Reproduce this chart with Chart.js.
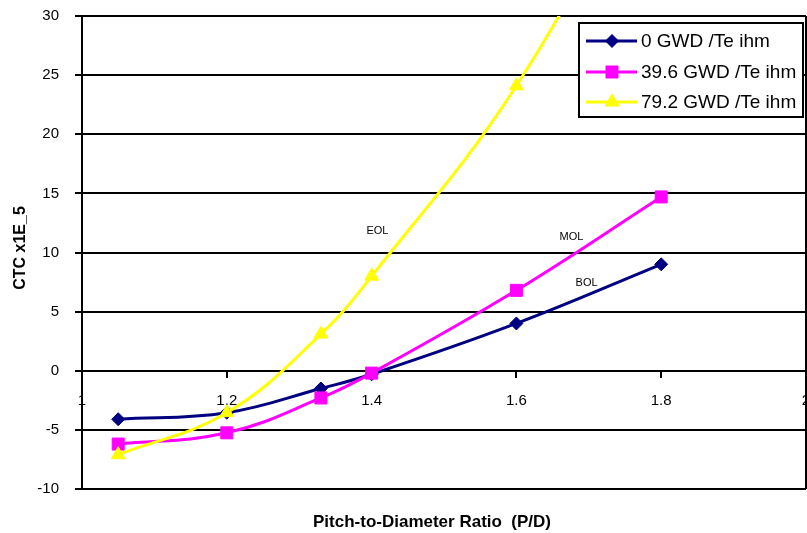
<!DOCTYPE html>
<html>
<head>
<meta charset="utf-8">
<script src="https://cdn.jsdelivr.net/npm/chart.js@4.4.1/dist/chart.umd.min.js"></script>
<style>
  html, body { margin: 0; padding: 0; background: #fff; }
  canvas { display: block; }
</style>
</head>
<body>
<canvas id="ctc" width="807" height="533"></canvas>
<script>
// Pitch-to-diameter ratios of the computed lattices
const pdRatio = [1.05, 1.2, 1.33, 1.4, 1.6, 1.8];

// Coolant temperature coefficient (x1E-5) at three burnup states
const ctcBol = [-4.1, -3.55, -1.5, -0.3, 4.0, 9.0];
const ctcMol = [-6.2, -5.25, -2.3, -0.2, 6.8, 14.7];
const ctcEol = [-7.1, -3.55, 3.1, 8.0, 24.1, 46];

const seriesNames = ['0 GWD /Te ihm', '39.6 GWD /Te ihm', '79.2 GWD /Te ihm'];

// Curve tags written next to each line
const tagText = ['EOL', 'MOL', 'BOL'];
const tagX = [1.408, 1.676, 1.697];
const tagY = [11.8, 11.3, 7.4];

const xTickValues = [1, 1.2, 1.4, 1.6, 1.8, 2];
const yTickValues = [-10, -5, 0, 5, 10, 15, 20, 25, 30];

const xTitle = 'Pitch-to-Diameter Ratio  (P/D)';
const yTitle = 'CTC x1E_5';

const toPoints = ys => pdRatio.map((x, i) => ({ x, y: ys[i] }));

const lineStyle = (color, shape, r, order) => ({
  borderColor: color,
  backgroundColor: color,
  pointBackgroundColor: color,
  pointBorderColor: color,
  pointStyle: shape,
  pointRadius: r,
  pointBorderWidth: 1,
  borderWidth: 3,
  tension: 0.4,
  order
});

const datasets = [
  Object.assign({ label: seriesNames[0], data: toPoints(ctcBol) }, lineStyle('#000080', 'rectRot', 6.5, 3)),
  Object.assign({ label: seriesNames[1], data: toPoints(ctcMol) }, lineStyle('#FF00FF', 'rect', 8.5, 2)),
  Object.assign({ label: seriesNames[2], data: toPoints(ctcEol) }, lineStyle('#FFFF00', 'triangle', 8, 1))
];

const FONT = 'Arial, "Liberation Sans", sans-serif';

// Frame, titles, tags and the boxed legend
const decorations = {
  id: 'decorations',
  afterDatasetsDraw(chart) {
    const { ctx, chartArea: a, scales } = chart;
    ctx.save();

    // right edge of the plot frame
    ctx.strokeStyle = '#000';
    ctx.lineWidth = 2;
    ctx.beginPath();
    ctx.moveTo(a.right, a.top);
    ctx.lineTo(a.right, a.bottom);
    ctx.stroke();

    // curve tags
    ctx.fillStyle = '#000';
    ctx.font = '11px ' + FONT;
    ctx.textAlign = 'center';
    ctx.textBaseline = 'middle';
    tagText.forEach((t, i) => {
      ctx.fillText(t, scales.x.getPixelForValue(tagX[i]), scales.y.getPixelForValue(tagY[i]));
    });

    // axis titles
    ctx.font = 'bold 17px ' + FONT;
    ctx.fillText(xTitle, 432, 522);
    ctx.save();
    ctx.translate(21, 248);
    ctx.rotate(-Math.PI / 2);
    ctx.font = 'bold 16px ' + FONT;
    ctx.fillText(yTitle, 0, 0);
    ctx.restore();

    // legend box
    const bx = 579, by = 23, bw = 224, bh = 94;
    ctx.fillStyle = '#fff';
    ctx.fillRect(bx, by, bw, bh);
    ctx.strokeStyle = '#000';
    ctx.lineWidth = 2;
    ctx.strokeRect(bx, by, bw, bh);

    const rows = [41, 72, 102];
    chart.data.datasets.forEach((ds, i) => {
      const yy = rows[i];
      ctx.strokeStyle = ds.borderColor;
      ctx.lineWidth = 3;
      ctx.beginPath();
      ctx.moveTo(586, yy);
      ctx.lineTo(637, yy);
      ctx.stroke();
      ctx.fillStyle = ds.pointBackgroundColor;
      ctx.strokeStyle = ds.pointBorderColor;
      ctx.lineWidth = 1;
      Chart.helpers.drawPoint(ctx, { pointStyle: ds.pointStyle, radius: ds.pointRadius, borderWidth: 1, rotation: 0 }, 612, yy);
      ctx.fillStyle = '#000';
      ctx.font = '19px ' + FONT;
      ctx.textAlign = 'left';
      ctx.textBaseline = 'middle';
      ctx.fillText(ds.label, 641, yy + 1);
    });

    ctx.restore();
  }
};

const whiteBackground = {
  id: 'whiteBackground',
  beforeDraw(chart) {
    const c = chart.ctx;
    c.save();
    c.fillStyle = '#fff';
    c.fillRect(0, 0, chart.width, chart.height);
    c.restore();
  }
};

new Chart(document.getElementById('ctc'), {
  type: 'line',
  data: { datasets },
  plugins: [whiteBackground, decorations],
  options: {
    responsive: false,
    animation: false,
    devicePixelRatio: 1,
    layout: { autoPadding: false, padding: { top: 16, right: 1, bottom: 44, left: 0 } },
    plugins: { legend: { display: false }, tooltip: { enabled: false }, title: { display: false } },
    scales: {
      x: {
        type: 'linear',
        position: { y: 0 },
        min: 1,
        max: 2,
        afterBuildTicks: s => { s.ticks = xTickValues.map(v => ({ value: v })); },
        afterFit: s => { s.paddingLeft = 0; s.paddingRight = 0; },
        grid: { drawOnChartArea: false, drawTicks: true, tickLength: 6, color: '#000', lineWidth: 2 },
        border: { display: true, color: '#000', width: 2 },
        ticks: {
          padding: 15,
          maxRotation: 0,
          autoSkip: false,
          color: '#000',
          font: { family: FONT, size: 15 },
          callback: v => String(+v.toFixed(2))
        }
      },
      y: {
        type: 'linear',
        position: 'left',
        min: -10,
        max: 30,
        afterBuildTicks: s => { s.ticks = yTickValues.map(v => ({ value: v })); },
        afterFit: s => { s.width = 82; s.paddingTop = 0; s.paddingBottom = 0; },
        grid: { color: '#000', lineWidth: 2, tickLength: 7, drawTicks: true },
        border: { display: true, color: '#000', width: 2 },
        ticks: {
          padding: 16,
          color: '#000',
          font: { family: FONT, size: 15 },
          callback: v => String(v)
        }
      }
    }
  }
});
</script>
</body>
</html>
